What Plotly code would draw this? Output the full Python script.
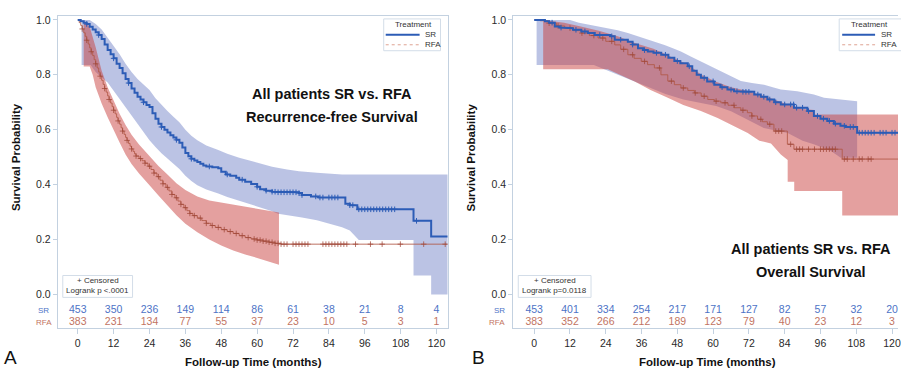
import numpy as np
import plotly.graph_objects as go

W, H = 901, 368

# ---------------- data ----------------
MONTH_TICKS = [0, 12, 24, 36, 48, 60, 72, 84, 96, 108, 120]
Y_TICKS = [0.0, 0.2, 0.4, 0.6, 0.8, 1.0]
Y_TICK_TEXT = ["0.0", "0.2", "0.4", "0.6", "0.8", "1.0"]

# Panel A : recurrence-free survival (Kaplan-Meier step points)
A_SR_T = [0, 1, 2, 3, 4, 5, 6, 7, 8, 9, 10, 11, 12, 13, 14, 15, 16, 17, 18, 19, 20, 21, 22, 23, 24,
          25, 26, 27, 28, 29, 30, 31, 32, 33, 34, 35, 36, 37, 38, 39, 40, 41, 42, 43, 45, 47, 48, 49.5,
          51, 53, 54, 56, 58, 60, 61, 63, 65, 67, 74, 75, 78, 80.5, 89.5, 91, 93.5, 112.3, 118.2]
A_SR_S = [1.0, 0.995, 0.99, 0.985, 0.975, 0.965, 0.955, 0.945, 0.93, 0.91, 0.89, 0.875, 0.86, 0.84,
          0.825, 0.806, 0.785, 0.77, 0.75, 0.735, 0.72, 0.71, 0.70, 0.69, 0.683, 0.66, 0.64, 0.622,
          0.61, 0.60, 0.59, 0.58, 0.572, 0.563, 0.552, 0.535, 0.515, 0.503, 0.494, 0.488, 0.482,
          0.476, 0.47, 0.466, 0.463, 0.46, 0.447, 0.437, 0.432, 0.425, 0.418, 0.41, 0.402, 0.392,
          0.383, 0.378, 0.374, 0.372, 0.369, 0.362, 0.357, 0.353, 0.33, 0.325, 0.31, 0.268, 0.211]

A_RFA_T = [0, 0.5, 1, 1.5, 2, 2.5, 3, 3.5, 4, 4.5, 5, 5.5, 6, 6.5, 7, 7.5, 8, 8.5, 9, 9.5, 10, 10.5,
           11, 11.5, 12, 12.5, 13, 13.5, 14, 14.5, 15, 15.5, 16, 16.5, 17, 17.5, 18, 18.5, 19, 19.5,
           20.5, 21.5, 22.5, 23.5, 24.5, 25.5, 26.5, 27.5, 28.5, 29.5, 30.5, 31.5, 32.5, 33.5, 34.5,
           35.5, 36.5, 37.5, 38.5, 40, 41.5, 43, 44.5, 46, 48, 50, 52, 54, 56, 58, 60, 62, 64, 66, 68]
A_RFA_S = [1.0, 0.99, 0.98, 0.967, 0.953, 0.94, 0.926, 0.912, 0.898, 0.884, 0.87, 0.855, 0.84, 0.825,
           0.81, 0.795, 0.78, 0.765, 0.75, 0.737, 0.723, 0.71, 0.697, 0.684, 0.671, 0.658, 0.645,
           0.632, 0.62, 0.607, 0.595, 0.583, 0.572, 0.561, 0.55, 0.54, 0.53, 0.521, 0.512, 0.504,
           0.495, 0.487, 0.478, 0.467, 0.455, 0.442, 0.429, 0.416, 0.403, 0.39, 0.377, 0.364, 0.352,
           0.34, 0.328, 0.316, 0.305, 0.295, 0.287, 0.278, 0.269, 0.259, 0.251, 0.244, 0.236, 0.229,
           0.222, 0.214, 0.207, 0.202, 0.198, 0.194, 0.19, 0.186, 0.183]

# Hall-Wellner confidence bands (outline vertices)
A_SR_UP_T = [1.3, 4, 6, 8, 10, 12, 14, 16, 18, 20, 22, 24, 26, 28, 30, 32, 34, 36, 38, 40, 43, 47,
             50, 54, 58, 61, 65, 70, 74, 80, 88.4, 124]
A_SR_UP_S = [1.0, 1.0, 0.985, 0.965, 0.935, 0.905, 0.875, 0.84, 0.81, 0.785, 0.765, 0.745, 0.715,
             0.69, 0.668, 0.647, 0.627, 0.60, 0.578, 0.562, 0.542, 0.526, 0.512, 0.498, 0.487,
             0.478, 0.465, 0.455, 0.449, 0.443, 0.437, 0.437]
A_SR_LO_T = [1.3, 4.3, 6, 8, 10, 12, 14, 16, 18, 20, 22, 24, 26, 28, 30, 32, 34, 36, 38, 40, 43, 47,
             50, 54, 58, 61, 65, 67, 75, 80, 88.4, 91, 94, 112.3, 112.3, 118.2, 118.2, 124]
A_SR_LO_S = [0.836, 0.836, 0.81, 0.79, 0.772, 0.745, 0.715, 0.682, 0.652, 0.622, 0.592, 0.562, 0.537,
             0.514, 0.494, 0.476, 0.457, 0.432, 0.413, 0.398, 0.382, 0.368, 0.355, 0.341, 0.328,
             0.316, 0.303, 0.294, 0.28, 0.27, 0.245, 0.233, 0.198, 0.198, 0.069, 0.069, 0.0, 0.0]

A_RFA_UP_T = [2, 4, 6, 8, 10, 12, 14, 16, 18, 20.5, 24, 27, 30, 33, 36, 40, 44, 48, 52, 56, 60, 64,
              67.3]
A_RFA_UP_S = [0.995, 0.975, 0.90, 0.815, 0.755, 0.705, 0.658, 0.617, 0.582, 0.546, 0.502, 0.468,
              0.437, 0.405, 0.38, 0.357, 0.342, 0.334, 0.326, 0.318, 0.31, 0.303, 0.298]
A_RFA_LO_T = [2, 4, 5, 6, 8, 10, 12, 14, 16, 18, 20.5, 24, 27, 30, 33, 36, 40, 44, 48, 52, 56, 60,
              64, 67.3]
A_RFA_LO_S = [0.83, 0.83, 0.80, 0.755, 0.695, 0.645, 0.598, 0.553, 0.51, 0.475, 0.44, 0.398, 0.36,
              0.323, 0.288, 0.257, 0.226, 0.2, 0.178, 0.16, 0.145, 0.133, 0.12, 0.108]

A_SR_CENS = [3, 7, 12, 17, 22, 28, 33, 38, 44, 50, 55, 60, 63, 65, 66, 67, 68, 69, 70, 71, 72, 73,
             74, 75, 79.6, 81, 82, 84, 85, 86, 87, 91, 92, 94, 95, 96, 97, 98, 99, 100, 101, 102,
             103, 104, 105, 106, 113.3]
A_RFA_CENS = [1.5, 3, 4.5, 6, 7.5, 9, 10.5, 12, 13.5, 15, 16.5, 18, 19.5, 21, 22.5, 24, 25.5, 27,
              28.5, 30, 31.5, 33, 34.5, 36, 37.5, 39, 41, 43, 45, 47, 49, 51, 53, 55, 57, 59, 60, 61,
              62, 63, 64, 65, 66, 67, 68, 69, 70, 72, 73, 74, 75, 76, 77, 82, 83, 84, 85, 86, 87, 88,
              89, 90, 92.9, 97.9, 101.8, 107.9, 115.7, 122.9]

A_SR_RISK = [453, 350, 236, 149, 114, 86, 61, 38, 21, 8, 4]
A_RFA_RISK = [383, 231, 134, 77, 55, 37, 23, 10, 5, 3, 1]

# Panel B : overall survival
B_SR_T = [0, 3.6, 5, 6.9, 8.5, 10.2, 13, 15.8, 18, 20.3, 25.5, 27, 31.4, 33, 34.8, 36.5, 38.1, 40,
          42.6, 45, 47, 49, 51.5, 53, 54.5, 55.9, 58, 60.4, 62.5, 64.8, 67, 69.3, 73.8, 76, 78.2,
          80.5, 82.7, 87.1, 91.6, 93.8, 96, 98.3, 100.5, 102.7, 104.5, 108.3]
B_SR_S = [1.0, 0.995, 0.99, 0.976, 0.972, 0.97, 0.964, 0.958, 0.952, 0.945, 0.94, 0.928, 0.92, 0.91,
          0.897, 0.89, 0.885, 0.88, 0.873, 0.862, 0.85, 0.842, 0.831, 0.815, 0.8, 0.789, 0.776,
          0.764, 0.755, 0.746, 0.74, 0.738, 0.728, 0.72, 0.71, 0.7, 0.692, 0.68, 0.668, 0.65,
          0.64, 0.632, 0.622, 0.614, 0.61, 0.589]

B_RFA_T = [0, 2, 4.7, 7.5, 10.2, 13, 15.8, 18.5, 21.4, 24, 27, 29, 31.4, 33.5, 35.9, 38, 40.3, 42.5,
           44.8, 47, 49.2, 51.5, 53.7, 56, 58.2, 60.4, 62.6, 65, 67.1, 69.3, 71.5, 73, 74.9, 76.5,
           78.2, 80.4, 84.9, 87.1, 103.3]
B_RFA_S = [1.0, 0.997, 0.988, 0.978, 0.97, 0.961, 0.952, 0.943, 0.934, 0.922, 0.909, 0.893, 0.873,
           0.86, 0.849, 0.837, 0.825, 0.8, 0.777, 0.764, 0.752, 0.743, 0.734, 0.722, 0.71, 0.704,
           0.698, 0.689, 0.68, 0.671, 0.662, 0.65, 0.638, 0.629, 0.62, 0.595, 0.547, 0.529, 0.493]

B_SR_UP_T = [0.8, 12, 15, 19, 24.7, 28, 31.4, 35, 38.1, 41, 43.7, 46.5, 49.2, 52.5, 55.9, 59, 62.6,
             66, 69.3, 73, 77.1, 80, 82.7, 88.2, 93.8, 97.2, 102.7, 108.3]
B_SR_UP_S = [1.0, 1.0, 0.99, 0.982, 0.97, 0.962, 0.952, 0.94, 0.928, 0.918, 0.909, 0.897, 0.885,
             0.867, 0.849, 0.831, 0.813, 0.795, 0.777, 0.77, 0.764, 0.755, 0.746, 0.74, 0.728,
             0.716, 0.71, 0.704]
B_SR_LO_T = [0.8, 20, 24, 28, 33, 39, 44, 50, 55, 61, 66, 71, 77, 85, 90, 94, 99.5, 102.8, 108.3]
B_SR_LO_S = [0.836, 0.836, 0.82, 0.80, 0.778, 0.752, 0.73, 0.71, 0.698, 0.686, 0.667, 0.64, 0.606,
             0.588, 0.56, 0.546, 0.522, 0.498, 0.498]

B_RFA_UP_T = [3, 10, 16, 22, 28, 34, 40, 46, 52, 56, 61, 66, 72, 78, 84, 90, 93.9, 94, 123]
B_RFA_UP_S = [1.0, 0.99, 0.975, 0.96, 0.94, 0.915, 0.895, 0.865, 0.835, 0.8, 0.775, 0.755, 0.74,
              0.72, 0.695, 0.675, 0.672, 0.655, 0.655]
B_RFA_LO_T = [3, 24.7, 28, 33.7, 39, 44.8, 50, 55.9, 61.5, 66, 71.6, 75.5, 79.4, 82.7, 85, 85, 87.2,
              87.2, 103.3, 103.3, 123]
B_RFA_LO_S = [0.82, 0.82, 0.805, 0.776, 0.745, 0.716, 0.69, 0.668, 0.643, 0.62, 0.588, 0.56, 0.55,
              0.51, 0.49, 0.41, 0.41, 0.377, 0.377, 0.287, 0.287]

B_SR_CENS = [6, 9, 14, 17, 22, 26, 29, 33, 37, 41, 44, 48, 52, 57, 60, 63, 66, 68, 70, 71, 72, 75,
             77, 79, 81, 84, 86, 87, 88, 90, 92, 95, 97, 99, 101, 104, 106, 107, 109, 110, 111, 112,
             113, 114, 116, 117, 118, 120, 121]
B_RFA_CENS = [5, 8, 12, 16, 20, 23, 26, 30, 33, 37, 42, 46, 50, 54, 57, 61, 64, 67, 70, 73, 76, 79,
              81, 82, 83, 86, 88, 89, 90, 92, 94, 96, 97, 98, 99, 100, 101, 104, 105, 107, 109, 110,
              112, 113]

B_SR_RISK = [453, 401, 334, 254, 217, 171, 127, 82, 57, 32, 20]
B_RFA_RISK = [383, 352, 266, 212, 189, 123, 79, 40, 23, 12, 3]

# ---------------- styling ----------------
FONT = "Liberation Sans, Arial, sans-serif"
SR_LINE = "#2c5cb6"
RFA_LINE = "rgba(178,88,70,0.85)"
RFA_MARK = "rgba(160,72,58,0.75)"
SR_BAND = "rgba(84,104,188,0.40)"
RFA_BAND = "rgba(200,62,60,0.49)"
SR_TXT = "#4d73c6"
RFA_TXT = "#c27462"
FRAME = "#c3d1e0"

A_END, B_END = 124.0, 123.0
RISK_ROW_SR, RISK_ROW_RFA = -0.058, -0.1014


def step_xy(t, s, t_end):
    x, y = [], []
    for i in range(len(t)):
        x1 = t[i + 1] if i + 1 < len(t) else t_end
        x += [t[i], x1]
        y += [s[i], s[i]]
    return x, y


def step_at(t, s, c):
    idx = np.searchsorted(np.asarray(t), np.asarray(c), side="right") - 1
    return list(np.asarray(s)[idx])


fig = go.Figure()


def add_panel(xa, ya, sr_t, sr_s, rfa_t, rfa_s, sru, srl, rfu, rfl, end,
              sr_c, rfa_c, sr_risk, rfa_risk):
    for (up, lo, col) in [(sru, srl, SR_BAND), (rfu, rfl, RFA_BAND)]:
        bx = list(up[0]) + list(lo[0])[::-1]
        by = list(up[1]) + list(lo[1])[::-1]
        fig.add_trace(go.Scatter(x=bx, y=by, fill="toself", fillcolor=col, line=dict(width=0),
                                 mode="lines", xaxis=xa, yaxis=ya, hoverinfo="skip",
                                 showlegend=False))
    x, y = step_xy(rfa_t, rfa_s, end)
    fig.add_trace(go.Scatter(x=x, y=y, mode="lines", line=dict(color=RFA_LINE, width=1),
                             xaxis=xa, yaxis=ya, showlegend=False))
    fig.add_trace(go.Scatter(x=rfa_c, y=step_at(rfa_t, rfa_s, rfa_c), mode="markers",
                             marker=dict(symbol="cross-thin", size=4,
                                         line=dict(color=RFA_MARK, width=1)),
                             xaxis=xa, yaxis=ya, showlegend=False))
    x, y = step_xy(sr_t, sr_s, end)
    fig.add_trace(go.Scatter(x=x, y=y, mode="lines", line=dict(color=SR_LINE, width=2),
                             xaxis=xa, yaxis=ya, showlegend=False))
    fig.add_trace(go.Scatter(x=sr_c, y=step_at(sr_t, sr_s, sr_c), mode="markers",
                             marker=dict(symbol="cross-thin", size=4,
                                         line=dict(color=SR_LINE, width=1)),
                             xaxis=xa, yaxis=ya, showlegend=False))
    fig.add_trace(go.Scatter(x=MONTH_TICKS, y=[RISK_ROW_SR] * len(MONTH_TICKS), mode="text",
                             text=[str(v) for v in sr_risk],
                             textfont=dict(color=SR_TXT, size=10.5, family=FONT),
                             xaxis=xa, yaxis=ya, showlegend=False))
    fig.add_trace(go.Scatter(x=MONTH_TICKS, y=[RISK_ROW_RFA] * len(MONTH_TICKS), mode="text",
                             text=[str(v) for v in rfa_risk],
                             textfont=dict(color=RFA_TXT, size=10.5, family=FONT),
                             xaxis=xa, yaxis=ya, showlegend=False))


add_panel("x", "y", A_SR_T, A_SR_S, A_RFA_T, A_RFA_S,
          (A_SR_UP_T, A_SR_UP_S), (A_SR_LO_T, A_SR_LO_S),
          (A_RFA_UP_T, A_RFA_UP_S), (A_RFA_LO_T, A_RFA_LO_S),
          A_END, A_SR_CENS, A_RFA_CENS, A_SR_RISK, A_RFA_RISK)
add_panel("x2", "y2", B_SR_T, B_SR_S, B_RFA_T, B_RFA_S,
          (B_SR_UP_T, B_SR_UP_S), (B_SR_LO_T, B_SR_LO_S),
          (B_RFA_UP_T, B_RFA_UP_S), (B_RFA_LO_T, B_RFA_LO_S),
          B_END, B_SR_CENS, B_RFA_CENS, B_SR_RISK, B_RFA_RISK)


def px(x):
    return x / W


def py(y):
    return 1 - y / H


yrange = [-34 / 276, 280 / 276]
ydom = [py(328), py(14)]
tickfont = dict(family=FONT, size=10.5, color="#2a2a2a")
common_x = dict(tickvals=MONTH_TICKS, ticktext=[str(v) for v in MONTH_TICKS], ticks="outside",
                ticklen=5, tickcolor=FRAME, showline=True, linecolor=FRAME, linewidth=1,
                mirror=True, showgrid=False, zeroline=False, tickfont=tickfont,
                ticklabeloverflow="allow")
common_y = dict(tickvals=Y_TICKS, ticktext=Y_TICK_TEXT, ticks="outside", ticklen=4,
                tickcolor=FRAME, showline=True, linecolor=FRAME, linewidth=1, showgrid=False,
                zeroline=False, range=yrange, domain=ydom, tickfont=tickfont)

fig.update_layout(
    width=W, height=H, margin=dict(l=0, r=0, t=0, b=0),
    paper_bgcolor="white", plot_bgcolor="white", font=dict(family=FONT),
    xaxis=dict(domain=[px(58), px(449)], range=[-20 / 3, 371 / 3], anchor="y", **common_x),
    yaxis=dict(anchor="x", mirror=True, **common_y),
    xaxis2=dict(domain=[px(515), 1.0], range=[-21 / 2.9917, 365 / 2.9917], anchor="y2",
                **common_x),
    yaxis2=dict(anchor="x2", mirror=False, **common_y),
)

ann = []
shapes = []


def text(x, y, s, size, color="#222", bold=False, angle=0, xanchor="center"):
    ann.append(dict(x=px(x), y=py(y), xref="paper", yref="paper", text=f"<b>{s}</b>" if bold else s,
                    showarrow=False, textangle=angle, xanchor=xanchor, yanchor="middle",
                    font=dict(family=FONT, size=size, color=color)))


# Panel A texts
text(333, 92, "All patients SR vs. RFA", 14.5, "#111", True)
text(333, 116, "Recurrence-free Survival", 14.5, "#111", True)
text(254, 362, "Follow-up Time (months)", 11.5, "#111", True)
text(16, 156, "Survival Probability", 11.5, "#111", True, angle=-90)
text(11, 357, "A", 19, "#111")
text(44, 310, "SR", 8, SR_TXT)
text(44, 322, "RFA", 8, RFA_TXT)
# Panel B texts
text(814, 248, "All patients SR vs. RFA", 14.5, "#111", True)
text(814, 271, "Overall Survival", 14.5, "#111", True)
text(710, 362, "Follow-up Time (months)", 11.5, "#111", True)
text(473, 156, "Survival Probability", 11.5, "#111", True, angle=-90)
text(480, 357, "B", 19, "#111")
text(501, 310, "SR", 8, SR_TXT)
text(499, 322, "RFA", 8, RFA_TXT)

# legends
BOX = "#d3dde8"
for (x0, x1, lx0, lx1, tcx, lab_x) in [(385, 442, 387, 421, 415, 424), (842, 910, 845, 878, 872, 882)]:
    shapes.append(dict(type="rect", xref="paper", yref="paper", x0=px(x0), x1=px(x1), y0=py(49),
                       y1=py(17), line=dict(color=BOX, width=1), fillcolor="rgba(255,255,255,0.9)"))
    shapes.append(dict(type="line", xref="paper", yref="paper", x0=px(lx0), x1=px(lx1), y0=py(33),
                       y1=py(33), line=dict(color=SR_LINE, width=2)))
    shapes.append(dict(type="line", xref="paper", yref="paper", x0=px(lx0), x1=px(lx1), y0=py(43),
                       y1=py(43), line=dict(color="#dea393", width=1, dash="dot")))
    text(tcx, 23, "Treatment", 8, "#333")
    text(lab_x, 33, "SR", 8, "#333", xanchor="left")
    text(lab_x, 43, "RFA", 8, "#333", xanchor="left")

# censored / logrank boxes
for (x0, x1, p) in [(63, 133, "Logrank p &lt;.0001"), (520, 593, "Logrank p=0.0118")]:
    shapes.append(dict(type="rect", xref="paper", yref="paper", x0=px(x0), x1=px(x1), y0=py(297),
                       y1=py(275), line=dict(color=BOX, width=1), fillcolor="rgba(255,255,255,0.85)"))
    text((x0 + x1) / 2, 280.5, "+ Censored", 8, "#333")
    text((x0 + x1) / 2, 290.5, p, 8, "#333")

fig.update_layout(annotations=ann, shapes=shapes)
fig.write_html("out.html")
